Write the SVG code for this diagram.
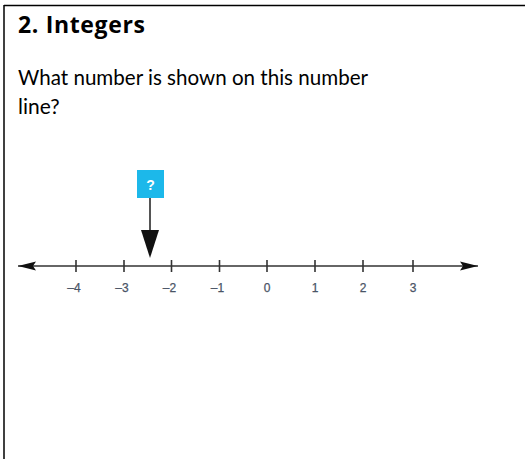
<svg xmlns="http://www.w3.org/2000/svg" width="525" height="459" viewBox="0 0 525 459">
<style>
.t{font-family:Lato,"Open Sans",sans-serif;fill:#000;font-size:21px}
.b{font-family:"Open Sans",Lato,sans-serif;font-weight:bold;font-size:23px;fill:#000}
.lab{font-family:"Liberation Sans",Arial,sans-serif;font-size:12px;fill:#4a5466;text-anchor:middle;stroke:#4a5466;stroke-width:0.25}
.tick{stroke:#333;stroke-width:1.6}
</style>
<defs>
<marker id="ah" viewBox="0 0 18 10" refX="18" refY="5" markerWidth="18" markerHeight="10" markerUnits="userSpaceOnUse" orient="auto-start-reverse">
<path d="M0,0.5 L18,5 L0,9.5 L3,5 Z" fill="#111"/>
</marker>
</defs>
<g id="frame">
<line x1="4" y1="5.5" x2="525" y2="5.5" stroke="#000" stroke-width="1.5"/>
<line x1="4" y1="5" x2="4" y2="459" stroke="#000" stroke-width="1.5"/>
</g>
<g id="texts">
<text class="b" x="18" y="33" textLength="127" lengthAdjust="spacing">2. Integers</text>
<text class="t" x="18" y="85" textLength="350" lengthAdjust="spacingAndGlyphs">What number is shown on this number</text>
<text class="t" x="18" y="114">line?</text>
</g>
<g id="connectors">
<line x1="18" y1="266" x2="478" y2="266" stroke="#333" stroke-width="1.7" marker-start="url(#ah)" marker-end="url(#ah)"/>
<line x1="150" y1="198" x2="150" y2="232" stroke="#555" stroke-width="2"/>
<path d="M141,230 L159,230 L150,258 Z" fill="#111"/>
</g>
<g id="ticks">
<line class="tick" x1="76" y1="260" x2="76" y2="272"/>
<line class="tick" x1="124" y1="260" x2="124" y2="272"/>
<line class="tick" x1="171.5" y1="260" x2="171.5" y2="272"/>
<line class="tick" x1="219.5" y1="260" x2="219.5" y2="272"/>
<line class="tick" x1="267" y1="260" x2="267" y2="272"/>
<line class="tick" x1="315" y1="260" x2="315" y2="272"/>
<line class="tick" x1="363" y1="260" x2="363" y2="272"/>
<line class="tick" x1="413" y1="260" x2="413" y2="272"/>
</g>
<g id="labels">
<text class="lab" x="74" y="292">–4</text>
<text class="lab" x="122" y="292">–3</text>
<text class="lab" x="169.5" y="292">–2</text>
<text class="lab" x="217.5" y="292">–1</text>
<text class="lab" x="267" y="292">0</text>
<text class="lab" x="315" y="292">1</text>
<text class="lab" x="363" y="292">2</text>
<text class="lab" x="413" y="292">3</text>
</g>
<g id="qbox">
<rect x="137" y="170" width="27" height="28" fill="#1cb8ea"/>
<text x="150.5" y="190" font-family="Liberation Sans,Arial,sans-serif" font-weight="bold" font-size="14" fill="#fff" text-anchor="middle">?</text>
</g>
</svg>
